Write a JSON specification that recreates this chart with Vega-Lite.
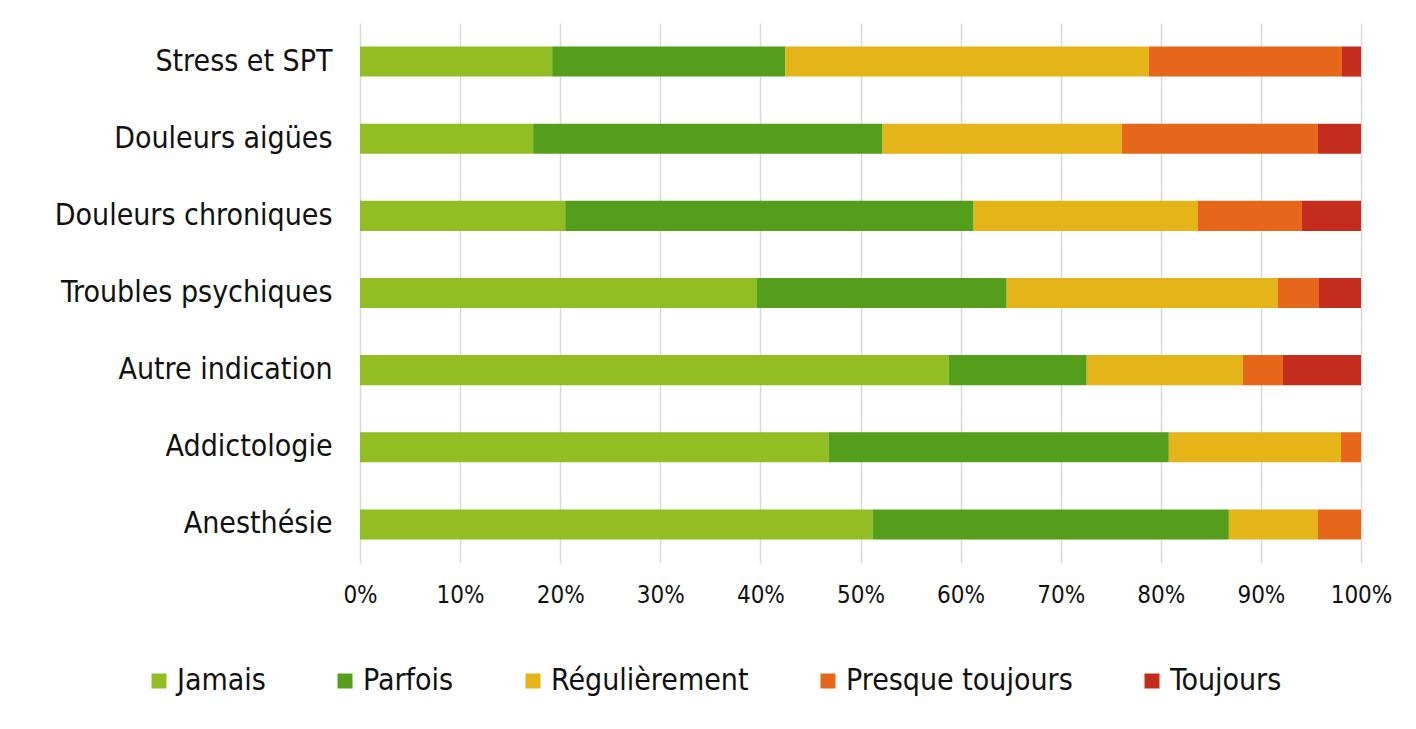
{
  "$schema": "https://vega.github.io/schema/vega-lite/v6.json",
  "autosize": {"type": "none"},
  "padding": {"left": 360, "top": 23, "right": 55, "bottom": 166},
  "width": 1001,
  "height": 540,
  "background": "white",
  "data": {
    "values": [
      {"cat": "Stress et SPT", "rep": "Jamais", "k": 1, "v": 19.2},
      {"cat": "Stress et SPT", "rep": "Parfois", "k": 2, "v": 23.3},
      {"cat": "Stress et SPT", "rep": "Régulièrement", "k": 3, "v": 36.3},
      {"cat": "Stress et SPT", "rep": "Presque toujours", "k": 4, "v": 19.3},
      {"cat": "Stress et SPT", "rep": "Toujours", "k": 5, "v": 1.9},
      {"cat": "Douleurs aigües", "rep": "Jamais", "k": 1, "v": 17.3},
      {"cat": "Douleurs aigües", "rep": "Parfois", "k": 2, "v": 34.9},
      {"cat": "Douleurs aigües", "rep": "Régulièrement", "k": 3, "v": 23.9},
      {"cat": "Douleurs aigües", "rep": "Presque toujours", "k": 4, "v": 19.6},
      {"cat": "Douleurs aigües", "rep": "Toujours", "k": 5, "v": 4.3},
      {"cat": "Douleurs chroniques", "rep": "Jamais", "k": 1, "v": 20.5},
      {"cat": "Douleurs chroniques", "rep": "Parfois", "k": 2, "v": 40.8},
      {"cat": "Douleurs chroniques", "rep": "Régulièrement", "k": 3, "v": 22.4},
      {"cat": "Douleurs chroniques", "rep": "Presque toujours", "k": 4, "v": 10.4},
      {"cat": "Douleurs chroniques", "rep": "Toujours", "k": 5, "v": 5.9},
      {"cat": "Troubles psychiques", "rep": "Jamais", "k": 1, "v": 39.6},
      {"cat": "Troubles psychiques", "rep": "Parfois", "k": 2, "v": 25.0},
      {"cat": "Troubles psychiques", "rep": "Régulièrement", "k": 3, "v": 27.1},
      {"cat": "Troubles psychiques", "rep": "Presque toujours", "k": 4, "v": 4.1},
      {"cat": "Troubles psychiques", "rep": "Toujours", "k": 5, "v": 4.2},
      {"cat": "Autre indication", "rep": "Jamais", "k": 1, "v": 58.8},
      {"cat": "Autre indication", "rep": "Parfois", "k": 2, "v": 13.8},
      {"cat": "Autre indication", "rep": "Régulièrement", "k": 3, "v": 15.6},
      {"cat": "Autre indication", "rep": "Presque toujours", "k": 4, "v": 4.0},
      {"cat": "Autre indication", "rep": "Toujours", "k": 5, "v": 7.8},
      {"cat": "Addictologie", "rep": "Jamais", "k": 1, "v": 46.8},
      {"cat": "Addictologie", "rep": "Parfois", "k": 2, "v": 34.0},
      {"cat": "Addictologie", "rep": "Régulièrement", "k": 3, "v": 17.2},
      {"cat": "Addictologie", "rep": "Presque toujours", "k": 4, "v": 2.0},
      {"cat": "Addictologie", "rep": "Toujours", "k": 5, "v": 0},
      {"cat": "Anesthésie", "rep": "Jamais", "k": 1, "v": 51.2},
      {"cat": "Anesthésie", "rep": "Parfois", "k": 2, "v": 35.6},
      {"cat": "Anesthésie", "rep": "Régulièrement", "k": 3, "v": 8.9},
      {"cat": "Anesthésie", "rep": "Presque toujours", "k": 4, "v": 4.3},
      {"cat": "Anesthésie", "rep": "Toujours", "k": 5, "v": 0}
    ]
  },
  "mark": {"type": "bar"},
  "encoding": {
    "y": {
      "field": "cat",
      "type": "nominal",
      "sort": ["Stress et SPT", "Douleurs aigües", "Douleurs chroniques", "Troubles psychiques", "Autre indication", "Addictologie", "Anesthésie"],
      "scale": {"paddingInner": 0.61, "paddingOuter": 0.305},
      "axis": {
        "title": null,
        "domain": false,
        "ticks": false,
        "labelPadding": 28,
        "labelFont": "DejaVu Sans Condensed",
        "labelFontSize": 30,
        "labelColor": "#111111",
        "labelLimit": 400
      }
    },
    "x": {
      "field": "v",
      "type": "quantitative",
      "stack": "normalize",
      "scale": {"domain": [0, 1]},
      "axis": {
        "title": null,
        "format": ".0%",
        "values": [0, 0.1, 0.2, 0.3, 0.4, 0.5, 0.6, 0.7, 0.8, 0.9, 1],
        "domain": false,
        "ticks": false,
        "labelFlush": false,
        "labelPadding": 20,
        "labelFont": "DejaVu Sans Condensed",
        "labelFontSize": 24,
        "labelColor": "#111111",
        "gridColor": "#d9d9d9",
        "gridWidth": 1.5
      }
    },
    "order": {"field": "k", "type": "quantitative", "sort": "ascending"},
    "color": {
      "field": "rep",
      "type": "nominal",
      "sort": ["Jamais", "Parfois", "Régulièrement", "Presque toujours", "Toujours"],
      "scale": {
        "domain": ["Jamais", "Parfois", "Régulièrement", "Presque toujours", "Toujours"],
        "range": ["#92BE24", "#559E1C", "#E4B418", "#E7671A", "#C42D1E"]
      },
      "legend": {
        "title": null,
        "orient": "none",
        "direction": "horizontal",
        "legendX": -216,
        "legendY": 643,
        "symbolType": "square",
        "symbolSize": 225,
        "symbolStrokeWidth": 0,
        "labelOffset": 3,
        "columnPadding": 64,
        "labelFont": "DejaVu Sans Condensed",
        "labelFontSize": 30,
        "labelColor": "#111111",
        "labelLimit": 400
      }
    }
  },
  "config": {
    "view": {"stroke": null}
  }
}
